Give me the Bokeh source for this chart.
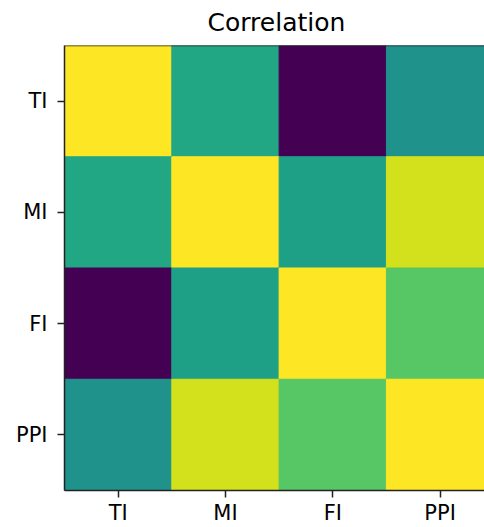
from bokeh.plotting import figure
from bokeh.models import LinearColorMapper, FixedTicker, Range1d, Span, ColumnDataSource
from bokeh.transform import transform
from bokeh.palettes import Viridis256
from bokeh.embed import file_html
from bokeh.resources import INLINE

labels = ["TI", "MI", "FI", "PPI"]
# correlation matrix rows (top to bottom) x columns (left to right)
row_TI = [1.00, 0.60, 0.00, 0.51]
row_MI = [0.60, 1.00, 0.57, 0.93]
row_FI = [0.00, 0.57, 1.00, 0.74]
row_PPI = [0.51, 0.93, 0.74, 1.00]
matrix = [row_TI, row_MI, row_FI, row_PPI]

xs, ys, vs = [], [], []
for i, row in enumerate(matrix):
    for j, v in enumerate(row):
        xs.append(j)
        ys.append(i)
        vs.append(v)
src = ColumnDataSource(dict(x=xs, y=ys, v=vs))

flat = [v for r in matrix for v in r]
mapper = LinearColorMapper(palette=Viridis256, low=min(flat), high=max(flat))

p = figure(width=484, height=527, output_backend="svg", toolbar_location=None,
           x_range=Range1d(-0.5, 3.414), y_range=Range1d(3.5, -0.5),
           title="Correlation", min_border_left=64, min_border_top=45,
           min_border_bottom=30, min_border_right=0)
p.rect(x="x", y="y", width=1, height=1, source=src,
       fill_color=transform("v", mapper), line_color=transform("v", mapper), line_width=1)

p.title.align = "left"
p.title.vertical_align = "top"
p.title.offset = 143
p.title.standoff = 14
p.title.text_font = "DejaVu Sans"
p.title.text_font_size = "25px"
p.title.text_font_style = "normal"
p.title.text_color = "#000000"

p.outline_line_color = None
p.grid.visible = False
p.background_fill_color = "white"
p.border_fill_color = "white"

for ax in (p.xaxis[0], p.yaxis[0]):
    ax.ticker = FixedTicker(ticks=list(range(len(labels))))
    ax.major_label_overrides = {i: l for i, l in enumerate(labels)}
    ax.major_label_text_font = "DejaVu Sans"
    ax.major_label_text_font_size = "21px"
    ax.major_label_text_color = "#000000"
    ax.major_tick_out = 7
    ax.major_tick_in = 0
    ax.minor_tick_line_color = None
    ax.major_tick_line_width = 1.5
    ax.major_tick_line_color = "#222222"
    ax.axis_line_width = 1.5
    ax.axis_line_color = "#222222"
p.xaxis[0].major_label_standoff = 3
p.yaxis[0].major_label_standoff = 10

top = Span(location=-0.5, dimension="width", line_color="#222222", line_width=1.5)
p.add_layout(top)

open("out.html", "w").write(file_html(p, INLINE))
